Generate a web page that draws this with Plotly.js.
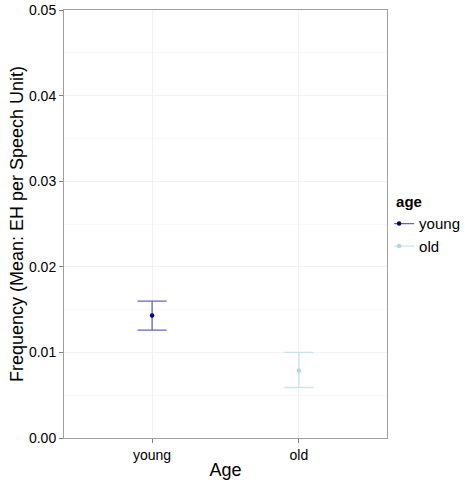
<!DOCTYPE html>
<html><head><meta charset="utf-8">
<script src="https://cdn.plot.ly/plotly-3.0.1.min.js"></script>
<style>body{margin:0;padding:0;background:#fff}</style>
</head><body>
<div id="chart" style="width:465px;height:480px"></div>
<script>
const categories = ["young", "old"];
const means = [0.0143, 0.0079];
const upper = [0.0160, 0.0100];
const lower = [0.0126, 0.0059];
const colors = ["rgba(0,0,139,1)", "rgba(173,216,230,1)"];
const barColors = ["rgba(0,0,139,0.6)", "rgba(173,216,230,0.65)"];

const traces = categories.map((c, i) => ({
  type: "scatter",
  mode: "lines+markers",
  name: c,
  x: [c],
  y: [means[i]],
  line: {color: barColors[i], width: 1.3},
  marker: {color: colors[i], size: 4.5},
  error_y: {
    type: "data",
    symmetric: false,
    array: [upper[i] - means[i]],
    arrayminus: [means[i] - lower[i]],
    color: barColors[i],
    thickness: 1.3,
    width: 14.5
  }
}));

const layout = {
  width: 465, height: 480,
  margin: {l: 64, r: 78, t: 10, b: 42, autoexpand: false},
  paper_bgcolor: "#fff", plot_bgcolor: "#fff",
  font: {family: "Liberation Sans, Arial, sans-serif", color: "#000"},
  showlegend: true,
  legend: {
    x: 1.022, xanchor: "left", y: 0.497, yanchor: "middle",
    bgcolor: "rgba(0,0,0,0)",
    title: {text: "<b>age</b>", font: {size: 15}},
    font: {size: 15}, tracegroupgap: 0, itemwidth: 30,
    indentation: -15
  },
  xaxis: {
    type: "category", categoryarray: categories, range: [-0.6, 1.6],
    showgrid: true, gridcolor: "#f2f2f2", gridwidth: 1,
    zeroline: false, showline: true, linecolor: "#a0a0a0", mirror: true,
    ticks: "outside", ticklen: 4, tickcolor: "#7f7f7f",
    tickfont: {size: 14, color: "#000"},
    title: {text: "Age", font: {size: 18}, standoff: 4}
  },
  yaxis: {
    range: [0, 0.05], dtick: 0.01, tickformat: ".2f",
    showgrid: true, gridcolor: "#f2f2f2", gridwidth: 1,
    minor: {dtick: 0.005, showgrid: true, gridcolor: "#f8f8f8", ticks: ""},
    zeroline: false, showline: true, linecolor: "#a0a0a0", mirror: true,
    ticks: "outside", ticklen: 4, tickcolor: "#7f7f7f",
    tickfont: {size: 14, color: "#000"},
    title: {text: "Frequency (Mean: EH per Speech Unit)", font: {size: 18}, standoff: 0}
  }
};

Plotly.newPlot("chart", traces, layout, {displayModeBar: false, staticPlot: true});
</script>
</body></html>
